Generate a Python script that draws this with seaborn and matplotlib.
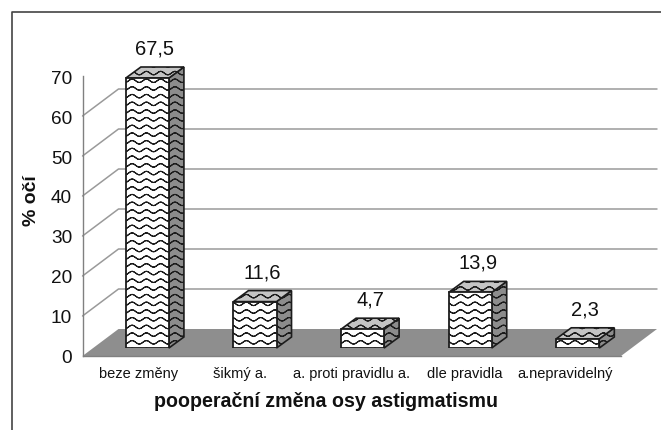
import numpy as np
import pandas as pd
import matplotlib
matplotlib.use("Agg")
import matplotlib.pyplot as plt
from matplotlib import hatch as mh
from matplotlib.path import Path
from matplotlib.patches import Polygon
from matplotlib.transforms import ScaledTranslation
from matplotlib.lines import Line2D
import seaborn as sns

categories = ["beze změny", "šikmý a.", "a. proti pravidlu a.", "dle pravidla", "a.nepravidelný"]
values = [67.5, 11.6, 4.7, 13.9, 2.3]
value_labels = ["67,5", "11,6", "4,7", "13,9", "2,3"]
y_ticks = [0, 10, 20, 30, 40, 50, 60, 70]
x_title = "pooperační změna osy astigmatismu"
y_title = "% očí"


class WaveHatch(mh.HatchPatternBase):
    """Wavy tile replacing the '-' hatch, like the Excel 'wave' pattern.
    Each wave runs out and back so the hatch fill encloses no area."""
    rows, periods, steps = 13, 7, 10

    def __init__(self, hatch, density):
        self.on = hatch.count("-") > 0
        n = 2 * self.periods * self.steps + 1
        self.num_vertices = self.rows * (2 * n) if self.on else 0

    def set_vertices_and_codes(self, vertices, codes):
        if not self.on:
            return
        n = 2 * self.periods * self.steps + 1
        t = np.linspace(0, 1, n)
        wave = np.sin(2 * np.pi * self.periods * t) * 0.017
        m = 2 * n
        for r in range(self.rows):
            y = (r + 0.5) / self.rows + wave
            vertices[r * m:r * m + n, 0] = t
            vertices[r * m:r * m + n, 1] = y
            vertices[r * m + n:(r + 1) * m, 0] = t[::-1]
            vertices[r * m + n:(r + 1) * m, 1] = y[::-1]
            codes[r * m] = Path.MOVETO
            codes[r * m + 1:(r + 1) * m] = Path.LINETO


mh._hatch_types[:] = [WaveHatch]

sns.set_theme(style="white")
plt.rcParams["font.family"] = ["Liberation Sans", "DejaVu Sans"]
plt.rcParams["hatch.linewidth"] = 0.8

W, H = 661, 431
fig = plt.figure(figsize=(W / 100, H / 100), dpi=100, facecolor="white")
PT = 72 / 100  # points per pixel


def axes_box(x0, x1, ytop, ybot):
    return [x0 / W, 1 - ybot / H, (x1 - x0) / W, (ybot - ytop) / H]


# Main axis: px x 83..621, y 357 (0) .. 77 (70)
ax = fig.add_axes(axes_box(82.5, 621, 77, 357))
ax.set_xlim(-0.5, 4.5)
ax.set_ylim(0, 70)
ax.patch.set_alpha(0)
DX, DY = 36, 27
wall = ax.transData + ScaledTranslation(DX / 100, DY / 100, fig.dpi_scale_trans)

# floor
floor = Polygon(
    np.vstack([ax.transData.transform([(-0.5, 0), (4.5, 0)]),
               wall.transform([(4.5, 0), (-0.5, 0)])]),
    closed=True, transform=None, facecolor="#8e8e8e", edgecolor="none", zorder=1, clip_on=False)
ax.add_artist(floor)
floor.set_clip_on(False)

# wall gridlines with their slanted parts
for t in y_ticks[1:-1]:
    a = ax.transData.transform((-0.5, t))
    b = wall.transform((-0.5, t))
    c = wall.transform((4.5, t))
    ln = Line2D([a[0], b[0], c[0]], [a[1], b[1], c[1]], transform=None,
                color="#9a9a9a", lw=1.1, zorder=1)
    ax.add_artist(ln)
    ln.set_clip_on(False)

ax.set_yticks(y_ticks)
ax.set_xticks([-0.5, 0.5, 1.5, 2.5, 3.5, 4.5])
ax.set_xticklabels([])
ax.tick_params(axis="both", length=4.5, width=1, color="#808080", direction="out", pad=3)
ax.tick_params(axis="y", labelsize=13.7, labelcolor="#111111", pad=3)
for s in ("top", "right"):
    ax.spines[s].set_visible(False)
for s in ("left", "bottom"):
    ax.spines[s].set_color("#808080")
    ax.spines[s].set_linewidth(1)
label_nudge = [2, -4, 0, 5, -2]
for i, c in enumerate(categories):
    ax.annotate(c, (i, 0), xytext=(label_nudge[i] * PT, -10 * PT), textcoords="offset points",
                ha="center", va="top", fontsize=10.5, color="#111111")

ax.set_xlabel(x_title, fontsize=14.1, fontweight="bold", color="#111111")
ax.xaxis.set_label_coords((326 - 83) / 538, -(392 - 357) / 280)
ax.set_ylabel(y_title, fontsize=14, fontweight="bold", color="#111111")
ax.yaxis.set_label_coords((41 - 83) / 538, (357 - 201) / 280)

# Bars on an overlaid axes (baseline shifted into the 3D floor)
SX, SY = 10.6, 8
bx = fig.add_axes(axes_box(83 + SX, 621 + SX, 77 - SY, 357 - SY))
bx.patch.set_alpha(0)
df = pd.DataFrame({"kategorie": categories, "hodnota": values})
sns.barplot(data=df, x="kategorie", y="hodnota", ax=bx, color="white", saturation=1,
            width=0.4, edgecolor="#1c1c1c", linewidth=1.3, hatch="-", zorder=5, errorbar=None)
for p in bx.patches:
    p.set_facecolor("white")
bx.set_xlim(-0.5, 4.5)
bx.set_ylim(0, 70)
bx.axis("off")

dx, dy = 15, 11
for p, lab in zip(bx.patches, value_labels):
    x0, y0, w, h = p.get_x(), p.get_y(), p.get_width(), p.get_height()
    f = bx.transData.transform([(x0, y0), (x0 + w, y0), (x0 + w, y0 + h), (x0, y0 + h)])
    side = [f[1], f[1] + (dx, dy), f[2] + (dx, dy), f[2]]
    top = [f[3], f[2], f[2] + (dx, dy), f[3] + (dx, dy)]
    for pts, col in ((side, "#8c8c8c"), (top, "#c4c4c4")):
        poly = Polygon(np.array(pts), closed=True, transform=None, facecolor=col,
                       edgecolor="#1c1c1c", linewidth=1.2, hatch="-", zorder=4)
        bx.add_artist(poly)
        poly.set_clip_on(False)
    cx = (f[2, 0] + f[3, 0]) / 2 + dx * 0.5
    bx.annotate(lab, xy=(cx, f[2, 1] + dy), xycoords="figure pixels", xytext=(0, 9.5 * PT),
                textcoords="offset points", ha="center", va="bottom", fontsize=14.5, color="#111111",
                annotation_clip=False)

# outer frame
fig.add_artist(Line2D([12 / W, 12 / W, 1], [0, 1 - 13 / H, 1 - 13 / H], color="#444444", lw=1.2))

fig.savefig("out.png", dpi=100, facecolor="white")
